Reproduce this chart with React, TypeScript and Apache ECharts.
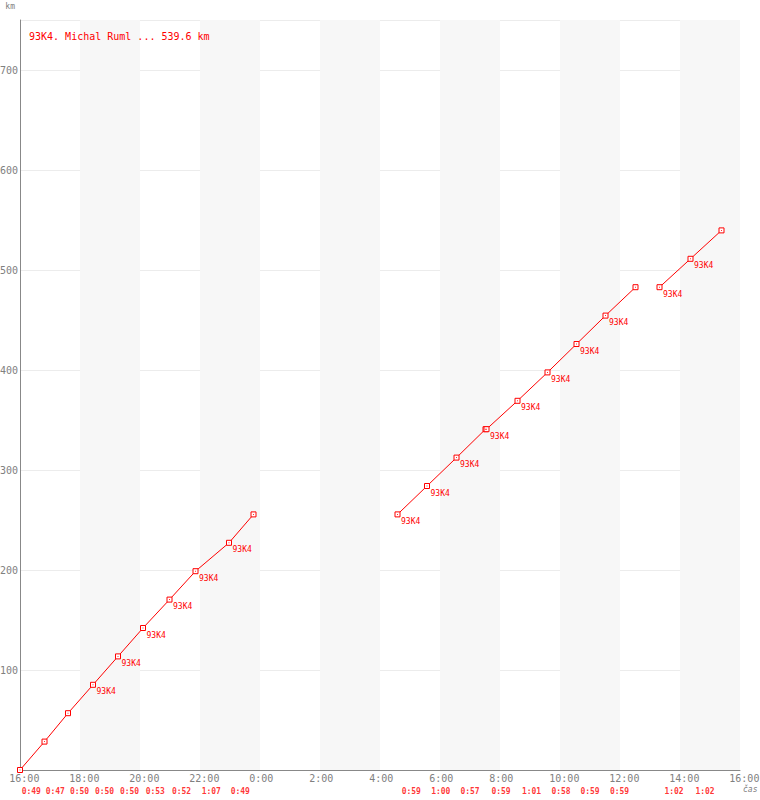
import React, { useEffect, useRef } from 'react';
import * as echarts from 'echarts';

const titleText = '93K4. Michal Ruml ... 539.6 km';
const pointLabel = '93K4';
const xTickLabels = ['16:00', '18:00', '20:00', '22:00', '0:00', '2:00', '4:00', '6:00', '8:00', '10:00', '12:00', '14:00', '16:00'];

const stint1Times = ['16:00', '16:49', '17:36', '18:26', '19:16', '20:06', '20:59', '21:51', '22:58', '23:47'];
const stint1Km = [0, 28.4, 56.8, 85.2, 113.6, 142.0, 170.4, 198.8, 227.2, 255.6];
const stint1Labelled = [false, false, false, true, true, true, true, true, true, false];
const stint1Laps = ['0:49', '0:47', '0:50', '0:50', '0:50', '0:53', '0:52', '1:07', '0:49'];

const stint2Times = ['4:35', '5:34', '6:33', '7:31', '7:33', '8:35', '9:35', '10:33', '11:31', '12:31'];
const stint2Km = [255.6, 284.0, 312.4, 340.8, 340.8, 369.2, 397.6, 426.0, 454.4, 482.8];
const stint2Labelled = [true, true, true, false, true, true, true, true, true, false];
const stint2Laps = ['0:59', '1:00', '0:57', '0:59', '1:01', '0:58', '0:59', '0:59'];

const stint3Times = ['13:19', '14:21', '15:23'];
const stint3Km = [482.8, 511.2, 539.6];
const stint3Labelled = [true, true, false];
const stint3Laps = ['1:02', '1:02'];

const FONT = '"DejaVu Sans Mono", monospace';
const RED = '#ff0000';
const GREY = '#808080';

function toHours(t: string): number {
  const [h, m] = t.split(':').map(Number);
  let mins = h * 60 + m;
  if (h < 16) mins += 24 * 60;
  return (mins - 16 * 60) / 60;
}

function stintPoints(times: string[], kms: number[]) {
  return times.map((t, i) => [toHours(t), kms[i]]);
}

function lapMarks(times: string[], kms: number[], laps: string[]) {
  const pts = stintPoints(times, kms);
  const out: any[] = [];
  let li = 0;
  for (let i = 1; i < pts.length; i++) {
    if (pts[i][1] > pts[i - 1][1] && li < laps.length) {
      out.push([(pts[i][0] + pts[i - 1][0]) / 2, 0, laps[li]]);
      li++;
    }
  }
  return out;
}

function lineSeries(times: string[], kms: number[], flags: boolean[]) {
  const pts = stintPoints(times, kms);
  return {
    type: 'line',
    color: RED,
    data: pts.map((p, i) => ({ value: p, label: { show: flags[i] } })),
    symbol: 'rect',
    symbolSize: 5,
    showAllSymbol: true,
    itemStyle: { color: '#ffffff', borderColor: RED, borderWidth: 1 },
    lineStyle: { color: RED, width: 1 },
    label: {
      show: false,
      position: 'right',
      distance: 0.5,
      offset: [0, 7],
      formatter: pointLabel,
      color: RED,
      fontSize: 8,
      fontFamily: FONT,
    },
    emphasis: { disabled: true },
    z: 3,
  };
}

export default function App() {
  const ref = useRef<HTMLDivElement>(null);
  useEffect(() => {
    if (!ref.current) return;
    const chart = echarts.init(ref.current, null, { renderer: 'svg' });
    const allPts = [
      ...stintPoints(stint1Times, stint1Km),
      ...stintPoints(stint2Times, stint2Km),
      ...stintPoints(stint3Times, stint3Km),
    ];
    const laps = [
      ...lapMarks(stint1Times, stint1Km, stint1Laps),
      ...lapMarks(stint2Times, stint2Km, stint2Laps),
      ...lapMarks(stint3Times, stint3Km, stint3Laps),
    ];
    chart.setOption({
      animation: false,
      backgroundColor: '#ffffff',
      title: {
        text: titleText,
        left: 29,
        top: 31,
        padding: 0,
        textStyle: { color: RED, fontSize: 10, fontWeight: 'normal', fontFamily: FONT },
      },
      grid: { left: 20, right: 20, top: 20, bottom: 30, containLabel: false, outerBoundsMode: 'none' },
      xAxis: {
        type: 'value',
        min: 0,
        max: 24,
        interval: 2,
        name: 'čas',
        nameLocation: 'end',
        nameGap: 3,
        nameTextStyle: {
          color: GREY,
          fontSize: 8,
          fontStyle: 'italic',
          fontFamily: FONT,
          verticalAlign: 'top',
          align: 'left',
          padding: [15, 0, 0, 0],
        },
        axisLine: { show: true, lineStyle: { color: '#888888', width: 1 } },
        axisTick: { show: false },
        splitLine: { show: false },
        splitArea: { show: true, areaStyle: { color: ['rgba(255,255,255,0)', '#f7f7f7'] } },
        axisLabel: {
          margin: 3,
          color: GREY,
          fontSize: 10,
          fontFamily: FONT,
          formatter: (v: number) => {
            const s = xTickLabels[Math.round(v / 2)] ?? '';
            return s.length === 5 ? `{l|${s}}` : `{s|${s}}`;
          },
          rich: {
            l: { padding: [0, 0, 0, 8.7], color: GREY, fontSize: 10, fontFamily: FONT },
            s: { padding: [0, 0, 0, 2.7], color: GREY, fontSize: 10, fontFamily: FONT },
          },
        },
      },
      yAxis: {
        type: 'value',
        min: 0,
        max: 750,
        interval: 100,
        name: 'km',
        nameLocation: 'end',
        nameGap: 14,
        nameTextStyle: {
          color: GREY,
          fontSize: 8,
          fontFamily: FONT,
          align: 'right',
          verticalAlign: 'middle',
          padding: [0, 5, 0, 0],
        },
        axisLine: { show: true, lineStyle: { color: '#888888', width: 1 } },
        axisTick: { show: false },
        splitLine: { show: true, lineStyle: { color: '#ececec', width: 1 } },
        axisLabel: {
          margin: 2,
          color: GREY,
          fontSize: 10,
          fontFamily: FONT,
          showMaxLabel: false,
          formatter: (v: number) => (v === 0 ? '' : String(v)),
        },
      },
      series: [
        lineSeries(stint1Times, stint1Km, stint1Labelled),
        lineSeries(stint2Times, stint2Km, stint2Labelled),
        lineSeries(stint3Times, stint3Km, stint3Labelled),
        {
          type: 'scatter',
          data: allPts,
          symbol: 'rect',
          symbolSize: 1,
          itemStyle: { color: RED },
          silent: true,
          z: 5,
        },
        {
          type: 'scatter',
          data: laps,
          symbolSize: 0,
          clip: false,
          silent: true,
          label: {
            show: true,
            position: 'bottom',
            distance: 17,
            offset: [-1, 0],
            formatter: (p: any) => p.value[2],
            color: RED,
            fontSize: 8,
            fontWeight: 'bold',
            fontFamily: FONT,
          },
          z: 4,
        },
      ],
    });
    return () => chart.dispose();
  }, []);
  return (
    <div
      ref={ref}
      style={{ position: 'absolute', left: 0, top: 0, width: 760, height: 800 }}
    />
  );
}
